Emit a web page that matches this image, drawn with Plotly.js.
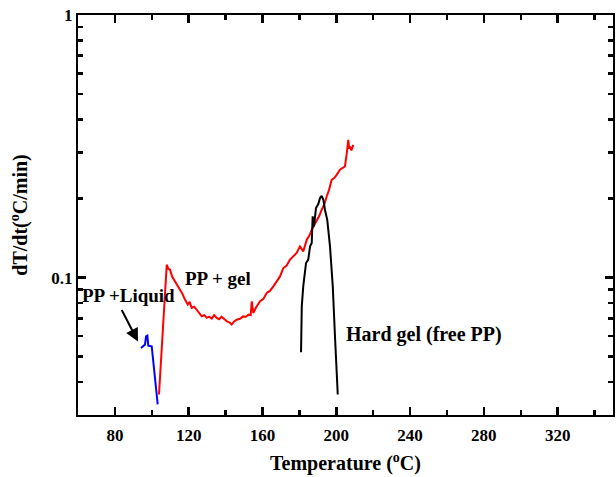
<!DOCTYPE html>
<html><head><meta charset="utf-8">
<script src="https://cdn.plot.ly/plotly-3.0.1.min.js"></script>
<style>html,body{margin:0;padding:0;background:#fff}#chart{width:616px;height:477px}</style>
</head><body><div id="chart"></div>
<script>
// Blue: PP + Liquid
const blueT = [94.15, 96.3, 96.9, 97.6, 98.1, 99.4, 99.95, 103.2];
const blueV = [0.054, 0.0556, 0.0598, 0.0602, 0.0551, 0.0551, 0.0548, 0.0329];
// Red: PP + gel
const redT = [103.9,105.5,107.0,108.1,109.0,109.9,111.0,112.6,113.8,115.3,116.5,118.0,119.5,120.5,121.6,123.0,124.3,125.5,127.1,128.5,129.8,131.0,132.5,133.8,135.2,136.5,137.8,139.7,141.0,142.2,143.3,144.5,146.0,147.8,149.5,151.0,152.5,153.6,154.2,155.0,156.5,158.7,160.5,162.3,164.0,165.9,167.5,169.5,171.3,173.0,174.9,176.5,178.5,180.3,182.1,184.0,185.5,186.7,188.0,189.4,190.8,192.1,193.5,194.8,196.0,197.5,199.0,200.2,202.0,203.5,204.7,205.7,206.5,207.0,207.4,208.2,209.2];
const redV = [0.0359,0.055,0.085,0.112,0.108,0.1073,0.101,0.0968,0.094,0.090,0.087,0.0825,0.079,0.081,0.0767,0.0775,0.0755,0.0735,0.0713,0.072,0.0703,0.071,0.0698,0.072,0.0703,0.0695,0.071,0.0692,0.068,0.0675,0.0663,0.068,0.0692,0.0697,0.0712,0.071,0.0723,0.072,0.0813,0.0734,0.077,0.0813,0.083,0.0874,0.089,0.0927,0.096,0.1011,0.1088,0.111,0.1171,0.120,0.1241,0.1315,0.1259,0.1394,0.145,0.1522,0.158,0.1662,0.172,0.1814,0.190,0.2038,0.215,0.2358,0.240,0.2463,0.2574,0.262,0.265,0.2979,0.3346,0.310,0.3157,0.305,0.3204];
// Black: Hard gel (free PP)
const blackT = [180.9,181.3,182.1,183.6,184.8,185.8,186.7,187.2,187.9,189.0,190.3,191.2,192.1,193.0,193.9,195.1,196.6,198.1,199.3,200.8];
const blackV = [0.052,0.0778,0.0927,0.1137,0.1171,0.1315,0.1355,0.1711,0.1566,0.184,0.191,0.201,0.205,0.198,0.181,0.166,0.1315,0.0927,0.0598,0.0359];

const xTicks = [80,120,160,200,240,280,320];
const xMinor = [100,140,180,220,260,300,340];
const yTicks = [0.1, 1];
const yTickText = ['0.1', '1'];
const yMinor = [0.04,0.05,0.06,0.07,0.08,0.09,0.2,0.3,0.4,0.5,0.6,0.7,0.8,0.9];

const F = 'Liberation Serif, Times New Roman, serif';
const traces = [
  {x: blueT, y: blueV, mode: 'lines', line: {color: '#0000ff', width: 2}, hoverinfo: 'skip'},
  {x: redT, y: redV, mode: 'lines', line: {color: '#ff0000', width: 2}, hoverinfo: 'skip'},
  {x: blackT, y: blackV, mode: 'lines', line: {color: '#000000', width: 2}, hoverinfo: 'skip'}
];
const tf = {family: F, size: 17, weight: 700, color: '#000'};
const layout = {
  width: 616, height: 477,
  margin: {l: 78, r: 3, t: 15, b: 62},
  showlegend: false,
  paper_bgcolor: '#fff', plot_bgcolor: '#fff',
  font: {family: F, color: '#000'},
  xaxis: {
    range: [60, 350], tickvals: xTicks, ticks: 'inside', ticklen: 8, tickwidth: 2.5, tickcolor: '#000',
    showline: true, linewidth: 2, linecolor: '#000', mirror: 'ticks', showgrid: false, zeroline: false,
    tickfont: tf, ticklabelstandoff: 4,
    minor: {tickvals: xMinor, ticks: 'inside', ticklen: 5, tickwidth: 2.5, tickcolor: '#000', showgrid: false},
    title: {text: 'Temperature (<sup>o</sup>C)', font: {family: F, size: 20, weight: 700}, standoff: 12}
  },
  yaxis: {
    type: 'log', range: [Math.log10(0.03), 0], tickvals: yTicks, ticktext: yTickText,
    ticks: 'inside', ticklen: 8, tickwidth: 2.5, tickcolor: '#000',
    showline: true, linewidth: 2, linecolor: '#000', mirror: 'ticks', showgrid: false, zeroline: false,
    tickfont: tf,
    minor: {tickvals: yMinor, ticks: 'inside', ticklen: 5, tickwidth: 2.5, tickcolor: '#000', showgrid: false},
    title: {text: 'dT/dt(<sup>o</sup>C/min)', font: {family: F, size: 20, weight: 700}, standoff: 18}
  },
  annotations: [
    {x: 87.6, y: -1.0684, xref: 'x', yref: 'y', text: 'PP +Liquid', showarrow: false,
     font: {family: F, size: 19, weight: 700, color: '#000'}},
    {x: 92.5, y: -1.2433, xref: 'x', yref: 'y', text: '', showarrow: true,
     ax: -17, ay: -33, arrowhead: 2, arrowsize: 1.3, arrowwidth: 2, arrowcolor: '#000'},
    {x: 135.9, y: -1.0038, xref: 'x', yref: 'y', text: 'PP + gel', showarrow: false,
     font: {family: F, size: 19, weight: 700, color: '#000'}},
    {x: 204.2, y: -1.2167, xref: 'x', yref: 'y', xanchor: 'left', text: 'Hard gel (free PP)', showarrow: false,
     font: {family: F, size: 20, weight: 700, color: '#000'}}
  ]
};
Plotly.newPlot('chart', traces, layout, {displayModeBar: false, staticPlot: true});
</script></body></html>
